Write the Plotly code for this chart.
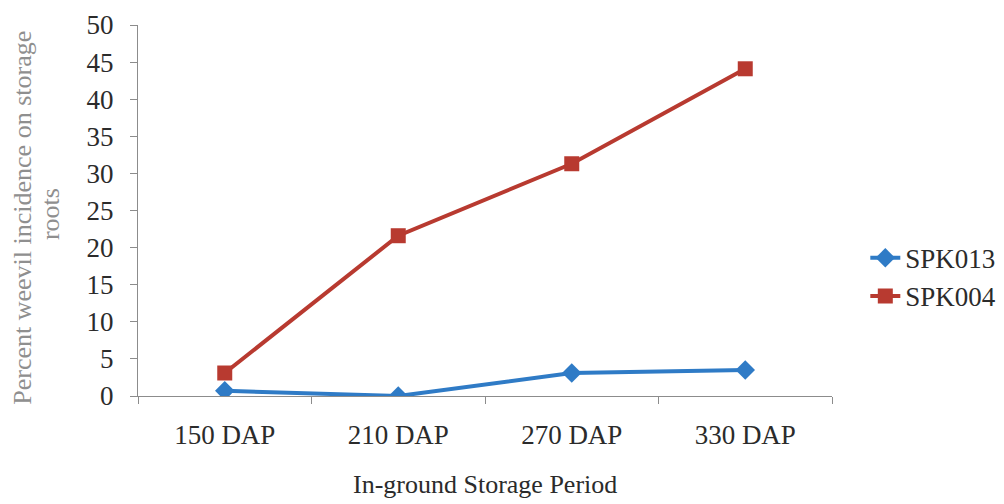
import plotly.graph_objects as go

categories = ["150 DAP", "210 DAP", "270 DAP", "330 DAP"]
spk013 = [0.7, 0.0, 3.1, 3.5]
spk004 = [3.1, 21.6, 31.3, 44.1]
y_ticks = [0, 5, 10, 15, 20, 25, 30, 35, 40, 45, 50]
y_title_lines = ["Percent weevil incidence on storage", "roots"]

font_family = "Liberation Serif"
txt = "#2b2b2b"
title_gray = "#8f8f8f"

fig = go.Figure()
fig.add_trace(go.Scatter(
    x=categories, y=spk013, name="SPK013", mode="lines+markers",
    line=dict(color="#2F7BC6", width=4),
    marker=dict(symbol="diamond", size=15, color="#2F7BC6"),
))
fig.add_trace(go.Scatter(
    x=categories, y=spk004, name="SPK004", mode="lines+markers",
    line=dict(color="#B83A30", width=4),
    marker=dict(symbol="square", size=15, color="#B83A30"),
))

fig.update_layout(
    width=1004, height=504,
    margin=dict(l=138, r=172, t=25, b=108, autoexpand=False),
    paper_bgcolor="white", plot_bgcolor="white",
    font=dict(family=font_family, size=26, color=txt),
    showlegend=True,
    legend=dict(x=1.048, y=0.32, xanchor="left", yanchor="middle",
                font=dict(family=font_family, size=27, color=txt),
                tracegroupgap=4, bgcolor="rgba(0,0,0,0)"),
    xaxis=dict(
        type="category", range=[-0.5, 3.5], automargin=False,
        showline=True, linecolor="#8c8c8c", linewidth=1,
        ticks="outside", tickson="boundaries", ticklen=7, tickcolor="#8c8c8c",
        showgrid=False, zeroline=False, ticklabelstandoff=15,
        tickfont=dict(family=font_family, size=27, color=txt),
    ),
    yaxis=dict(
        range=[0, 50], tickvals=y_ticks, automargin=False,
        showline=True, linecolor="#8c8c8c", linewidth=1,
        ticks="outside", ticklen=7, tickcolor="#8c8c8c",
        showgrid=False, zeroline=False, ticklabelstandoff=11,
        tickfont=dict(family=font_family, size=27, color=txt),
    ),
    annotations=[
        dict(text="In-ground Storage Period", xref="paper", yref="paper",
             x=0.5, y=-0.238, xanchor="center", yanchor="middle",
             showarrow=False, font=dict(family=font_family, size=26, color=txt)),
        dict(text=y_title_lines[0], xref="paper", yref="paper",
             x=-0.166, y=0.48, xanchor="center", yanchor="middle", textangle=-90,
             showarrow=False, font=dict(family=font_family, size=26, color=title_gray)),
        dict(text=y_title_lines[1], xref="paper", yref="paper",
             x=-0.127, y=0.49, xanchor="center", yanchor="middle", textangle=-90,
             showarrow=False, font=dict(family=font_family, size=26, color=title_gray)),
    ],
)

fig.write_html(
    "out.html",
    config={"displayModeBar": False},
    post_script="document.body.style.margin='0';document.body.style.overflow='hidden';",
)
